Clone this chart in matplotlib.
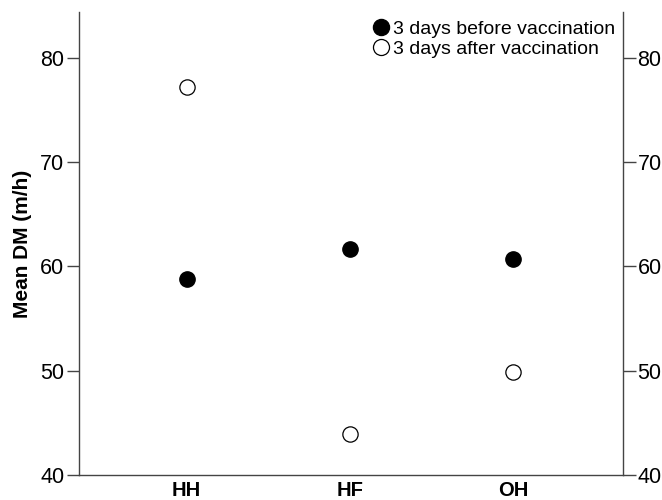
import matplotlib
matplotlib.use("Agg")
import matplotlib.pyplot as plt

plt.rcParams['font.family'] = ['Liberation Sans', 'DejaVu Sans']

groups = ["HH", "HF", "OH"]
before = [58.8, 61.7, 60.7]
after = [77.2, 43.9, 49.9]

fig = plt.figure(figsize=(6.62, 5), dpi=100)
ax = fig.add_axes([0.119, 0.05, 0.822, 0.926])

x = list(range(len(groups)))
ax.plot(x, before, 'o', ms=11, mfc='black', mec='black', ls='none',
        label='3 days before vaccination')
ax.plot(x, after, 'o', ms=11, mfc='white', mec='black', mew=0.9, ls='none',
        label='3 days after vaccination')

ax.set_xlim(-0.66, 2.67)
ax.set_ylim(40, 84.4)
ax.set_xticks(x)
ax.set_xticklabels(groups, fontsize=14.5, fontweight='bold')
ax.tick_params(axis='x', length=0, pad=4)
ax.set_yticks([40, 50, 60, 70, 80])
ax.tick_params(axis='y', labelsize=15.5, length=9, width=1, color='#444444',
               left=True, right=True, labelleft=True, labelright=True, pad=1.5)
ax.set_ylabel('Mean DM (m/h)', fontsize=15, fontweight='bold', labelpad=6)

ax.spines['top'].set_visible(False)
for s in ['left', 'right', 'bottom']:
    ax.spines[s].set_color('#444444')
    ax.spines[s].set_linewidth(1)

ax.legend(loc='upper right', bbox_to_anchor=(0.985, 0.982), frameon=False,
          fontsize=14, handletextpad=0.15, borderaxespad=0, borderpad=0,
          labelspacing=0.12, handlelength=0.9, markerscale=1.05)

fig.savefig('out.png', dpi=100)
